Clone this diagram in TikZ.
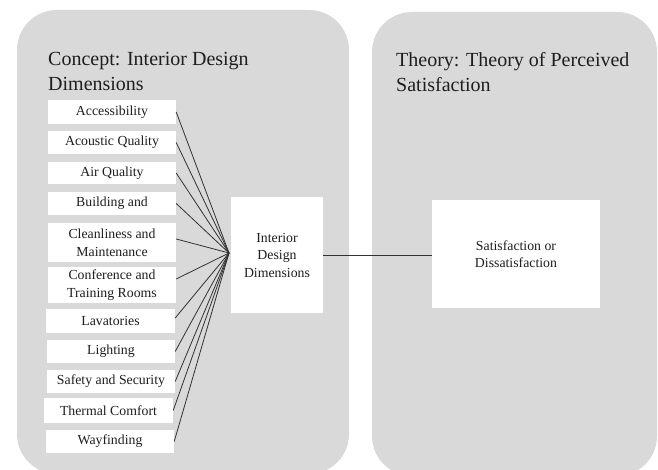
\documentclass[tikz,border=0pt]{standalone}
\usepackage{fontspec}
\setmainfont{Liberation Serif}
\definecolor{panelgray}{RGB}{217,217,217}
\definecolor{txt}{RGB}{30,30,30}
\definecolor{wire}{RGB}{50,50,50}
\begin{document}
\begin{tikzpicture}[x=1pt,y=-1pt,
  panel/.style={fill=panelgray,draw=none,rounded corners=40pt},
  title/.style={anchor=base west,inner sep=0pt,align=left,text=txt,
    font=\fontsize{20}{25.5}\selectfont},
  item/.style={fill=white,draw=none,inner sep=0pt,align=center,text=txt,
    font=\fontsize{13.8}{18}\selectfont},
  wirestyle/.style={draw=wire,line width=0.8pt}]
\useasboundingbox (0,0) rectangle (658,470);
% panels
\path[panel] (17,10) rectangle (349,474);
\path[panel] (372,12) rectangle (657,476);
% titles
\node[title] (t1) at (48,91) {Concept: Interior Design\\Dimensions};
\node[title] (t2) at (396,92) {Theory: Theory of Perceived\\Satisfaction};
% items
\node[item,minimum width=128,minimum height=24] (b1) at (112,112) {Accessibility};
\node[item,minimum width=128,minimum height=23] (b2) at (112,142.5) {Acoustic Quality};
\node[item,minimum width=128,minimum height=22] (b3) at (112,173) {Air Quality};
\node[item,minimum width=128,minimum height=23] (b4) at (112,203.5) {Building and};
\node[item,minimum width=128,minimum height=39] (b5) at (112,242.5) {Cleanliness and\\Maintenance};
\node[item,minimum width=128,minimum height=36] (b6) at (112,285) {Conference and\\Training Rooms};
\node[item,minimum width=129,minimum height=24] (b7) at (110.5,321) {Lavatories};
\node[item,minimum width=128,minimum height=23] (b8) at (111,351.5) {Lighting};
\node[item,minimum width=128,minimum height=23] (b9) at (111,381.5) {Safety and Security};
\node[item,minimum width=129,minimum height=25] (b10) at (108.5,410.5) {Thermal Comfort};
\node[item,minimum width=128,minimum height=23] (b11) at (110,441.5) {Wayfinding};
% central boxes
\node[item,minimum width=92,minimum height=116,font=\fontsize{13.8}{17.5}\selectfont] (idd) at (277,255) {Interior\\Design\\Dimensions};
\node[item,minimum width=168,minimum height=107,font=\fontsize{13.8}{17.5}\selectfont] (sat) at (516,254) {Satisfaction or\\Dissatisfaction};
\coordinate (hub) at (229,253);
% fan connectors
\draw[wirestyle] (b1.east) -- (hub);
\draw[wirestyle] (b2.east) -- (hub);
\draw[wirestyle] (b3.east) -- (hub);
\draw[wirestyle] (b4.east) -- (hub);
\draw[wirestyle] ([yshift=3.5pt]b5.east) -- (hub);
\draw[wirestyle] ([yshift=6pt]b6.east) -- (hub);
\draw[wirestyle] ([yshift=3pt]b7.east) -- (hub);
\draw[wirestyle] (b8.east) -- (hub);
\draw[wirestyle] (b9.east) -- (hub);
\draw[wirestyle] (b10.east) -- (hub);
\draw[wirestyle] (b11.east) -- (hub);
\draw[wirestyle] (idd.east) -- (idd.east -| sat.west);
\end{tikzpicture}
\end{document}
